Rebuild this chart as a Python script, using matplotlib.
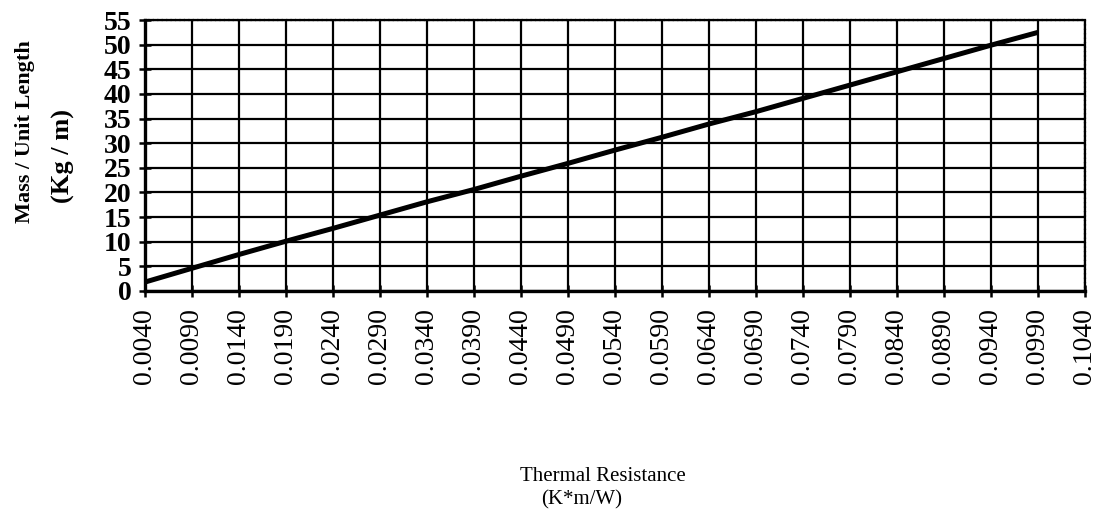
import numpy as np
import matplotlib
matplotlib.use("Agg")
import matplotlib.pyplot as plt

# thermal resistance (K*m/W) and mass per unit length (kg/m)
resistance = [0.0040, 0.0090, 0.0140, 0.0190, 0.0240, 0.0290, 0.0340, 0.0390,
              0.0440, 0.0490, 0.0540, 0.0590, 0.0640, 0.0690, 0.0740, 0.0790,
              0.0840, 0.0890, 0.0940, 0.0990]
mass = [1.8, 4.6, 7.4, 10.1, 12.7, 15.4, 18.1, 20.6, 23.3, 25.9,
        28.6, 31.2, 33.9, 36.4, 39.1, 41.8, 44.5, 47.2, 49.9, 52.5]

x_ticks = [0.0040 + 0.0050 * i for i in range(21)]
y_ticks = list(range(0, 60, 5))

serif = ["Liberation Serif", "DejaVu Serif"]

fig = plt.figure(figsize=(10.98, 5.29), dpi=100)
ax = fig.add_axes([0.132, 0.450, 0.856, 0.512])

ax.plot(resistance, mass, color="black", linewidth=3.6, solid_capstyle="butt", zorder=3)

ax.set_xlim(0.0040, 0.1040)
ax.set_ylim(0, 55)
ax.set_xticks(x_ticks)
ax.set_xticklabels(["%.4f" % v for v in x_ticks], rotation=90,
                   family=serif, fontsize=20)
ax.set_yticks(y_ticks)
ax.set_yticklabels([str(v) for v in y_ticks], family=serif,
                   fontsize=20, fontweight="bold")

ax.grid(True, color="black", linewidth=1.6)
ax.set_axisbelow(True)
ax.tick_params(axis="both", direction="inout", length=9, width=1.8,
               color="black")
ax.tick_params(axis="x", pad=8)
ax.tick_params(axis="y", pad=5)

for side in ["left", "bottom"]:
    ax.spines[side].set_linewidth(2.4)
for side in ["top", "right"]:
    ax.spines[side].set_linewidth(1.6)
    ax.spines[side].set_linestyle((0, (1.5, 0.5)))

fig.text(0.023, 0.752, "Mass / Unit Length", rotation=90, ha="center",
         va="center", family=serif, fontsize=16, fontweight="bold")
fig.text(0.058, 0.705, "(Kg / m)", rotation=90, ha="center",
         va="center", family=serif, fontsize=19, fontweight="bold")

fig.text(0.549, 0.100, "Thermal Resistance", ha="center", va="center",
         family=serif, fontsize=15)
fig.text(0.530, 0.055, "(K*m/W)", ha="center", va="center",
         family=serif, fontsize=15)

fig.savefig("out.png", dpi=100)
